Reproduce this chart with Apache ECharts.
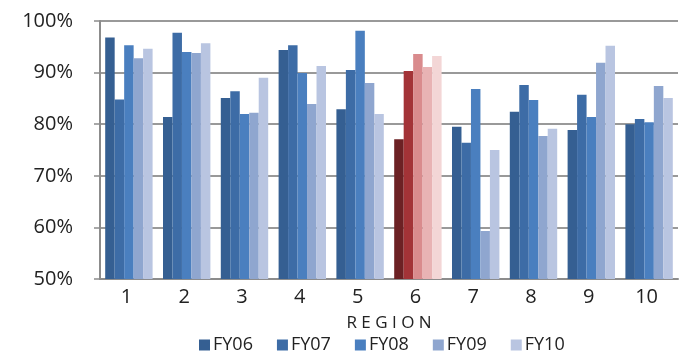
<!DOCTYPE html>
<html>
<head>
<meta charset="utf-8">
<script src="https://cdn.jsdelivr.net/npm/echarts@6/dist/echarts.min.js"></script>
<style>html,body{margin:0;padding:0;background:#fff}#c{width:687px;height:356px}</style>
</head>
<body>
<div id="c"></div>
<script>
var categories = ['1','2','3','4','5','6','7','8','9','10'];
var seriesNames = ['FY06','FY07','FY08','FY09','FY10'];
var fy06 = [96.8, 81.4, 85.1, 94.4, 82.9, 77.1, 79.5, 82.4, 78.9, 80.0];
var fy07 = [84.8, 97.7, 86.4, 95.3, 90.5, 90.3, 76.4, 87.6, 85.7, 81.0];
var fy08 = [95.3, 94.0, 82.0, 89.9, 98.1, 93.6, 86.8, 84.7, 81.4, 80.4];
var fy09 = [92.8, 93.8, 82.2, 83.9, 88.0, 91.1, 59.3, 77.7, 91.9, 87.4];
var fy10 = [94.6, 95.7, 89.0, 91.3, 82.0, 93.2, 75.0, 79.1, 95.2, 85.1];
var yTicks = ['50%','60%','70%','80%','90%','100%'];
var blueColors = ['#355f92', '#3d6ca6', '#4a7fbf', '#8fa6cf', '#b9c5e1'];
var redColors = ['#6c2124', '#a33337', '#d98b8d', '#e8b3b4', '#f3d6d6'];
var highlightIndex = 5;

var allValues = [fy06, fy07, fy08, fy09, fy10];
var series = seriesNames.map(function (name, s) {
  return {
    name: name,
    type: 'bar',
    barGap: '0%',
    barCategoryGap: '18%',
    itemStyle: { color: blueColors[s] },
    data: allValues[s].map(function (v, i) {
      if (i === highlightIndex) {
        return { value: v, itemStyle: { color: redColors[s] } };
      }
      return v;
    })
  };
});

var chart = echarts.init(document.getElementById('c'), null, { renderer: 'canvas' });
chart.setOption({
  animation: false,
  backgroundColor: '#ffffff',
  textStyle: { fontFamily: 'Open Sans' },
  legend: {
    data: seriesNames,
    bottom: -3,
    left: 194,
    itemWidth: 11,
    itemHeight: 11,
    itemGap: 24,
    icon: 'rect',
    textStyle: { fontSize: 18, color: '#222', fontFamily: 'Open Sans', padding: [0, 0, 0, -2] }
  },
  grid: { left: 100, right: 9, top: 21, bottom: 77 },
  xAxis: {
    type: 'category',
    data: categories,
    name: 'R E G I O N',
    nameLocation: 'middle',
    nameGap: 36,
    nameTextStyle: { fontSize: 17, color: '#222', fontFamily: 'Open Sans' },
    axisLine: { show: true, lineStyle: { color: '#8c8c8c', width: 2 } },
    axisTick: { show: false },
    axisLabel: { fontSize: 20, color: '#222', margin: 8, padding: [0, 5, 0, 0] }
  },
  yAxis: {
    type: 'value',
    min: 50,
    max: 100,
    interval: 10,
    axisLine: { show: true, lineStyle: { color: '#8c8c8c', width: 2 } },
    axisTick: { show: true, length: 6, lineStyle: { color: '#8c8c8c', width: 1.5 } },
    splitLine: { show: true, lineStyle: { color: '#999999', width: 2 } },
    axisLabel: {
      fontSize: 20, color: '#222', margin: 27,
      formatter: function (v) { return yTicks[Math.round((v - 50) / 10)]; }
    }
  },
  series: series
});
</script>
</body>
</html>
